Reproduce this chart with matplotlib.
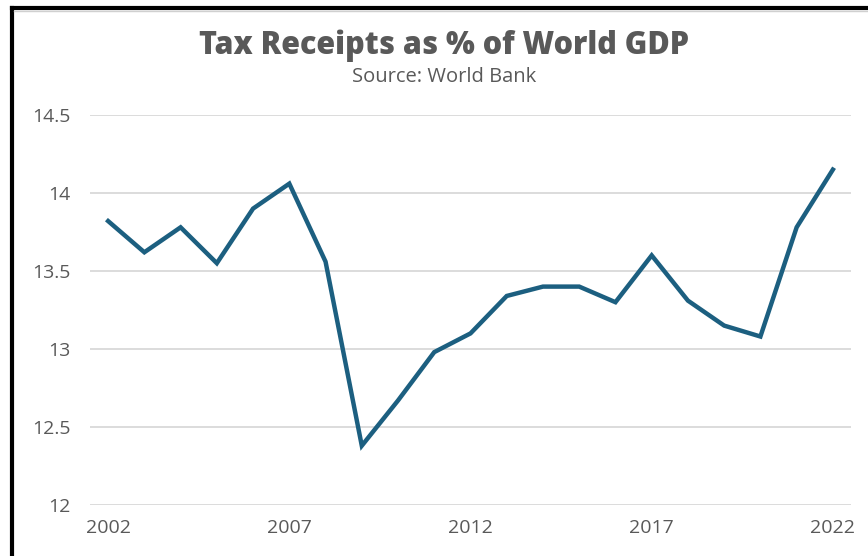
import matplotlib
matplotlib.use("Agg")
import matplotlib.pyplot as plt
from matplotlib.lines import Line2D

years = list(range(2002, 2023))
tax_pct = [13.82, 13.62, 13.78, 13.55, 13.90, 14.06, 13.56, 12.38, 12.67, 12.98,
           13.10, 13.34, 13.40, 13.40, 13.30, 13.60, 13.31, 13.15, 13.08, 13.78, 14.15]
x_ticks = [2002, 2007, 2012, 2017, 2022]
y_ticks = [12, 12.5, 13, 13.5, 14, 14.5]
y_labels = ["12", "12.5", "13", "13.5", "14", "14.5"]

plt.rcParams["font.family"] = ["Open Sans", "DejaVu Sans"]
grey = "#595959"

fig = plt.figure(figsize=(8.68, 5.56), dpi=100)
ax = fig.add_axes([90 / 868, 1 - 505 / 556, (851 - 90) / 868, (505 - 115) / 556])

ax.plot(years, tax_pct, color="#1c5f80", linewidth=3.2, solid_joinstyle="miter")
ax.set_xlim(2001.5, 2022.5)
ax.set_ylim(12, 14.5)
ax.set_xticks(x_ticks)
ax.set_yticks(y_ticks)
ax.set_yticklabels(y_labels)
ax.grid(axis="y", color="#d9d9d9", linewidth=1.3)
ax.set_axisbelow(True)
for s in ax.spines.values():
    s.set_visible(False)
ax.tick_params(axis="both", length=0, labelsize=14, labelcolor=grey)
ax.tick_params(axis="y", pad=14)
ax.tick_params(axis="x", pad=10)

fig.text(0.512, 1 - 46 / 556, "Tax Receipts as % of World GDP", ha="center", va="center",
         fontsize=22, fontweight="heavy", color=grey)
fig.text(0.512, 1 - 77 / 556, "Source: World Bank", ha="center", va="center",
         fontsize=14.5, color=grey)

# frame edges from the original screenshot
fig.add_artist(Line2D([12 / 868, 1], [1 - 7.5 / 556] * 2, color="black", linewidth=3, transform=fig.transFigure))
fig.add_artist(Line2D([12 / 868] * 2, [0, 1 - 7.5 / 556], color="black", linewidth=3, transform=fig.transFigure))
fig.add_artist(Line2D([14 / 868, 1], [1 - 10.5 / 556] * 2, color="#d0d0d0", linewidth=1, transform=fig.transFigure))

fig.savefig("out.png", dpi=100)
